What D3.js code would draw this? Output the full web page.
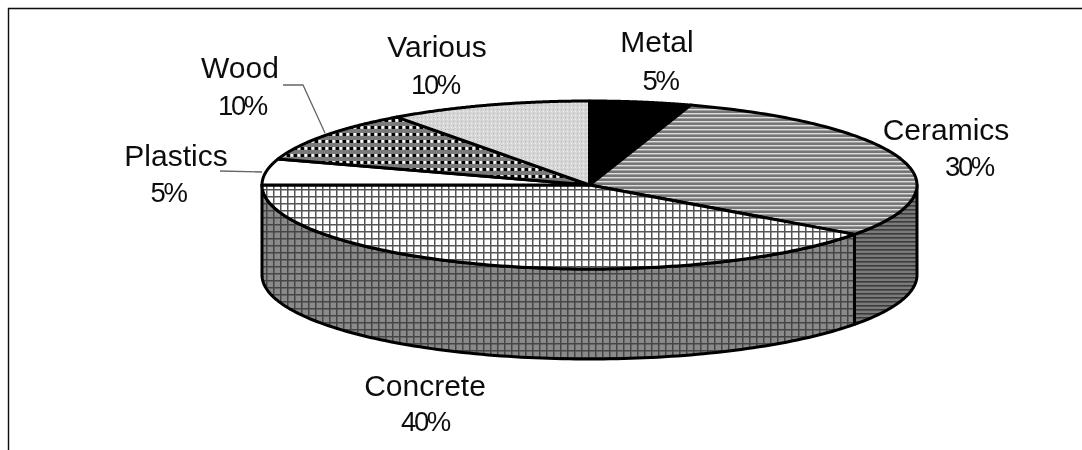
<!DOCTYPE html>
<html>
<head>
<meta charset="utf-8">
<script src="https://cdnjs.cloudflare.com/ajax/libs/d3/7.8.5/d3.min.js"></script>
<style>
  html, body { margin: 0; padding: 0; background: #fff; }
  svg { display: block; }
  text { font-family: "Liberation Sans", sans-serif; font-size: 30px; fill: #111; text-anchor: middle; }
  text.pct { font-size: 27.5px; letter-spacing: -2.4px; }
</style>
</head>
<body>
<div id="chart"></div>
<script>
// pie data, clockwise starting at the top
var materials = ["Metal", "Ceramics", "Concrete", "Plastics", "Wood", "Various"];
var shares = [5, 30, 40, 5, 10, 10];

var width = 1082, height = 450;

// centre, radii and thickness of the tilted disc
var cx = 589.5, cy = 185, rx = 327.5, ry = 84, depth = 90;

var xScale = d3.scaleLinear().domain([-1, 1]).range([cx - rx, cx + rx]);
var yScale = d3.scaleLinear().domain([-1, 1]).range([cy - ry, cy + ry]);

var svg = d3.select("#chart").append("svg")
    .attr("width", width)
    .attr("height", height);

var defs = svg.append("defs");

var blur = defs.append("filter").attr("id", "soft");
blur.append("feGaussianBlur").attr("stdDeviation", 0.6);
var blurText = defs.append("filter").attr("id", "softText");
blurText.append("feGaussianBlur").attr("stdDeviation", 0.4);

function pattern(id, w, h, bg) {
    var p = defs.append("pattern")
        .attr("id", id)
        .attr("patternUnits", "userSpaceOnUse")
        .attr("width", w)
        .attr("height", h);
    p.append("rect").attr("width", w).attr("height", h).attr("fill", bg);
    return p;
}

// ceramics top - grey with light rules
var p = pattern("ceramicsTop", 4, 4, "#747474");
p.append("rect").attr("y", 1).attr("width", 4).attr("height", 1.4).attr("fill", "#dedede");

// ceramics wall
p = pattern("ceramicsSide", 4, 4, "#7a7a7a");
p.append("rect").attr("y", 1).attr("width", 4).attr("height", 1.6).attr("fill", "#3a3a3a");

// concrete top - white cells
p = pattern("concreteTop", 7, 7, "#fff");
p.append("rect").attr("width", 1.5).attr("height", 7).attr("fill", "#555");
p.append("rect").attr("width", 7).attr("height", 1.5).attr("fill", "#555");

// concrete wall - grey cells
p = pattern("concreteSide", 7, 7, "#8a8a8a");
p.append("rect").attr("width", 1.5).attr("height", 7).attr("fill", "#444");
p.append("rect").attr("width", 7).attr("height", 1.5).attr("fill", "#444");

// wood - black and white dots on grey
p = pattern("wood", 7, 7, "#7a7a7a");
p.append("rect").attr("x", 0).attr("y", 0).attr("width", 3).attr("height", 3).attr("fill", "#000");
p.append("rect").attr("x", 3.5).attr("y", 0).attr("width", 2.4).attr("height", 2.8).attr("fill", "#fff");

// various - light stipple
p = pattern("various", 4, 4, "#d6d6d6");
p.append("rect").attr("x", 1).attr("y", 1).attr("width", 1).attr("height", 1).attr("fill", "#b4b4b4");
p.append("rect").attr("x", 3).attr("y", 3).attr("width", 1).attr("height", 1).attr("fill", "#f0f0f0");

var topFill = {
    Metal: "#000",
    Ceramics: "url(#ceramicsTop)",
    Concrete: "url(#concreteTop)",
    Plastics: "#fff",
    Wood: "url(#wood)",
    Various: "url(#various)"
};
var sideFill = {
    Ceramics: "url(#ceramicsSide)",
    Concrete: "url(#concreteSide)"
};

var slices = d3.pie().sort(null)(shares);

// points along the rim between two pie angles
function rim(a0, a1, dy) {
    return d3.range(0, 121).map(function(i) {
        var a = a0 + (a1 - a0) * i / 120;
        return [xScale(Math.sin(a)), yScale(-Math.cos(a)) + dy];
    });
}

var line = d3.line();
var art = svg.append("g").attr("filter", "url(#soft)");

// outer wall, only the front half of the disc shows
slices.forEach(function(d, i) {
    var a0 = Math.max(d.startAngle, Math.PI / 2);
    var a1 = Math.min(d.endAngle, Math.PI * 1.5);
    if (a1 <= a0) return;
    var pts = rim(a0, a1, 0).concat(rim(a1, a0, depth));
    art.append("path")
        .attr("d", line(pts) + "Z")
        .attr("fill", sideFill[materials[i]])
        .attr("stroke", "#000")
        .attr("stroke-width", 3)
        .attr("stroke-linejoin", "round");
});

// top face
slices.forEach(function(d, i) {
    var pts = [[cx, cy]].concat(rim(d.startAngle, d.endAngle, 0));
    art.append("path")
        .attr("d", line(pts) + "Z")
        .attr("fill", topFill[materials[i]])
        .attr("stroke", "#000")
        .attr("stroke-width", 3)
        .attr("stroke-linejoin", "round");
});

// frame, open on the right and at the bottom
art.append("path")
    .attr("d", "M1082,8.5H8.5V450")
    .attr("fill", "none")
    .attr("stroke", "#111")
    .attr("stroke-width", 1.4);

// leader lines
art.append("path")
    .attr("d", "M283,85H303L325,133")
    .attr("fill", "none")
    .attr("stroke", "#666")
    .attr("stroke-width", 1.3);
art.append("path")
    .attr("d", "M220,171L262,172")
    .attr("fill", "none")
    .attr("stroke", "#666")
    .attr("stroke-width", 1.3);

// label anchors: name x, name baseline, percent x, percent baseline
var labelSpots = [
    [657, 52, 660, 90],
    [946, 140, 969, 176],
    [425, 396, 425, 431],
    [176, 166, 168, 202],
    [240, 78, 242, 115],
    [437, 57, 435, 94]
];

var labels = svg.append("g").attr("filter", "url(#softText)");
materials.forEach(function(name, i) {
    var s = labelSpots[i];
    labels.append("text").attr("x", s[0]).attr("y", s[1]).text(name);
    labels.append("text").attr("class", "pct").attr("x", s[2]).attr("y", s[3])
        .text(shares[i] + "%");
});
</script>
</body>
</html>
